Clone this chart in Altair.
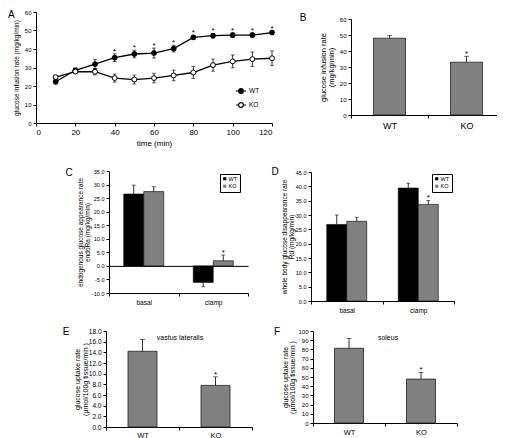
import altair as alt
import pandas as pd

FONT = "Liberation Sans"
W, H = 489, 430
GRAY = "#808080"

# ---------------- data ----------------
groups = ["WT", "KO"]

# Panel A: glucose infusion rate over time
times = [10, 20, 30, 40, 50, 60, 70, 80, 90, 100, 110, 120]
a_wt = [22.3, 28.5, 31.8, 35.3, 37.3, 37.8, 40.2, 46.3, 47.2, 47.5, 47.5, 48.9]
a_wt_err = [1.2, 1.2, 2.5, 2.1, 2.1, 2.7, 1.8, 1.1, 1.2, 1.2, 1.2, 1.1]
a_ko = [24.8, 27.8, 27.7, 24.3, 23.5, 24.3, 25.7, 27.3, 31.3, 33.3, 34.5, 35.0]
a_ko_err = [0.9, 0.8, 1.7, 2.2, 2.4, 2.6, 2.9, 3.2, 3.3, 3.5, 3.9, 4.0]
a_sig = [40, 50, 60, 70, 80, 90, 100, 110, 120]
a_xticks = [0, 20, 40, 60, 80, 100, 120]
a_yticks = [0, 10, 20, 30, 40, 50, 60]

# Panel B
b_vals = [48.0, 33.0]
b_err = [1.6, 3.7]
b_sig = [False, True]
b_yticks = [0, 10, 20, 30, 40, 50, 60]

# Panel C
conds = ["basal", "clamp"]
c_wt = [26.5, -6.1]
c_wt_err = [3.3, 1.6]
c_ko = [27.4, 1.9]
c_ko_err = [1.8, 2.1]
c_sig = [False, False, False, True]          # order: WT basal, WT clamp, KO basal, KO clamp
c_yticks = [-10, -5, 0, 5, 10, 15, 20, 25, 30, 35]

# Panel D
d_wt = [26.7, 39.4]
d_wt_err = [3.3, 1.7]
d_ko = [27.8, 33.7]
d_ko_err = [1.4, 1.4]
d_sig = [False, False, False, True]
d_yticks = [0, 5, 10, 15, 20, 25, 30, 35, 40, 45]

# Panel E (vastus lateralis)
e_vals = [14.2, 7.8]
e_err = [2.2, 1.6]
e_sig = [False, True]
e_yticks = [0, 2, 4, 6, 8, 10, 12, 14, 16, 18]

# Panel F (soleus)
f_vals = [81.2, 47.7]
f_err = [10.8, 7.2]
f_sig = [False, True]
f_yticks = [0, 10, 20, 30, 40, 50, 60, 70, 80, 90, 100]


# ---------------- helpers ----------------
def axis(**kw):
    base = dict(domainColor="black", domainWidth=1, tickColor="black", tickWidth=1, tickSize=3,
                labelColor="black", titleColor="black", labelFont=FONT, titleFont=FONT,
                titleFontWeight="normal", labelFontWeight="normal", grid=False,
                labelPadding=2, titlePadding=3)
    base.update(kw)
    return alt.Axis(**base)


def lin(domain, rng):
    return alt.Scale(domain=domain, range=rng, nice=False, zero=False)


MINUS = "replace(datum.label, '\u2212', '-')"


def text_label(txt, x, y, size, align="center", baseline="middle"):
    return alt.Chart(pd.DataFrame({"t": [txt]})).mark_text(
        font=FONT, fontSize=size, color="black", align=align, baseline=baseline
    ).encode(text="t:N", x=alt.value(x), y=alt.value(y))


# ---------------- Panel A ----------------
dfA = pd.DataFrame({
    "time": times * 2,
    "group": ["WT"] * len(times) + ["KO"] * len(times),
    "value": a_wt + a_ko,
    "err": a_wt_err + a_ko_err,
})
dfA["lo"] = dfA["value"] - dfA["err"]
dfA["hi"] = dfA["value"] + dfA["err"]
dfA["sig"] = [(g == "WT") and (t in a_sig) for g, t in zip(dfA["group"], dfA["time"])]

sxA = lin([0, 120], [28, 264])
syA = lin([0, 60], [115, 4])
axAx = axis(orient="bottom", offset=115 - H, values=a_xticks, title="time (min)",
            labelFontSize=8, titleFontSize=8, titlePadding=3)
axAy = axis(orient="left", offset=-28, values=a_yticks, title="glucose infusion rate (mg/kg/min)",
            labelFontSize=6, titleFontSize=6.5, titlePadding=5)

LEG_PATH = "M-1.6,0H-0.75M0.75,0H1.6M0.75,0A0.75,0.75,0,1,1,-0.75,0A0.75,0.75,0,1,1,0.75,0Z"

baseA = alt.Chart(dfA)
XA = alt.X("time:Q", scale=sxA, axis=None)
A_err = baseA.mark_rule(color="black", strokeWidth=0.8).encode(
    x=XA, y=alt.Y("lo:Q", scale=syA, axis=None), y2="hi:Q")
A_lo = baseA.mark_tick(orient="horizontal", size=4, thickness=0.8, color="black").encode(
    x=XA, y=alt.Y("lo:Q", scale=syA, axis=None))
A_hi = baseA.mark_tick(orient="horizontal", size=4, thickness=0.8, color="black").encode(
    x=XA, y=alt.Y("hi:Q", scale=syA, axis=None))
A_line = baseA.mark_line(color="black", strokeWidth=1.3).encode(
    x=alt.X("time:Q", scale=sxA, axis=axAx),
    y=alt.Y("value:Q", scale=syA, axis=axAy),
    detail="group:N")
A_pts = baseA.mark_point(shape="circle", size=24, filled=True, stroke="black", strokeWidth=1,
                         opacity=1).encode(
    x=XA, y=alt.Y("value:Q", scale=syA, axis=None),
    fill=alt.Fill("group:N", scale=alt.Scale(domain=groups, range=["black", "white"]),
                  legend=alt.Legend(orient="none", legendX=229, legendY=79, title=None,
                                    symbolType=LEG_PATH, symbolSize=40, symbolStrokeColor="black",
                                    symbolStrokeWidth=1.1, labelFontSize=6.5, labelFont=FONT,
                                    labelColor="black", labelOffset=4, rowPadding=4)))
A_star = baseA.transform_filter("datum.sig").mark_text(
    text="*", font=FONT, fontSize=8, baseline="alphabetic", color="black").encode(
    x=XA, y=alt.Y("hi:Q", scale=syA, axis=None))
panelA = alt.layer(A_err, A_lo, A_hi, A_line, A_pts, A_star).resolve_axis(
    x="independent", y="independent")


# ---------------- single bar panels ----------------
def single_panel(vals, errs, sig, xr, yr, ydom, yvals, yfmt, ytitle, bw,
                 ylabfs, ytitlefs, ytitlepad, xlabfs, xlabpad):
    df = pd.DataFrame({"cat": groups, "value": vals, "err": errs, "sig": sig})
    df["end"] = df["value"] + df["err"]
    sx = alt.Scale(domain=groups, range=xr, paddingInner=0, paddingOuter=0)
    sy = lin(ydom, yr)
    xax = axis(orient="bottom", offset=yr[0] - H, title=None, labelAngle=0,
               labelFontSize=xlabfs, tickBand="extent", labelPadding=xlabpad)
    yax = axis(orient="left", offset=-xr[0], values=yvals, format=yfmt, title=ytitle,
               labelFontSize=ylabfs, titleFontSize=ytitlefs, titlePadding=ytitlepad,
               titleLineHeight=ytitlefs + 0.5)
    base = alt.Chart(df)
    Xn = alt.X("cat:N", scale=sx, axis=None)
    bars = base.mark_bar(size=bw, color=GRAY, stroke="#222222", strokeWidth=0.8).encode(
        x=alt.X("cat:N", scale=sx, axis=xax),
        y=alt.Y("value:Q", scale=sy, axis=yax), y2=alt.datum(0))
    rule = base.mark_rule(color="black", strokeWidth=0.8).encode(
        x=Xn, y=alt.Y("value:Q", scale=sy, axis=None), y2="end:Q")
    cap = base.mark_tick(orient="horizontal", size=5, thickness=0.8, color="black").encode(
        x=Xn, y=alt.Y("end:Q", scale=sy, axis=None))
    star = base.transform_filter("datum.sig").mark_text(
        text="*", font=FONT, fontSize=8, baseline="alphabetic", color="black").encode(
        x=Xn, y=alt.Y("end:Q", scale=sy, axis=None))
    return alt.layer(bars, rule, cap, star).resolve_axis(x="independent", y="independent")


panelB = single_panel(b_vals, b_err, b_sig, [343, 497], [107, 11], [0, 60], b_yticks, "d",
                      ["glucose infusion rate", "(mg/kg/min)"], 32, 6, 7.5, 4, 9, 3)
panelE = single_panel(e_vals, e_err, e_sig, [98, 244], [419, 323], [0, 18], e_yticks, ".1f",
                      ["glucose uptake rate", "(\u03bcmol/100g tissue/min )"], 29, 6.5, 7, 0, 7.5, 1)
panelF = single_panel(f_vals, f_err, f_sig, [305, 449], [415, 323], [0, 100], f_yticks, "d",
                      ["glucose uptake rate", "(\u03bcmol/100g tissue/min )"], 29, 6, 7, 2, 7.5, 2)


# ---------------- grouped bar panels ----------------
def grouped_panel(wt, wt_err, ko, ko_err, sig, xr, yr, ydom, yvals, ytitle, legxy, zero_axis):
    df = pd.DataFrame({
        "cond": conds * 2,
        "group": ["WT"] * 2 + ["KO"] * 2,
        "value": wt + ko,
        "err": wt_err + ko_err,
        "sig": sig,
    })
    df["end"] = [v + e if v >= 0 else v - e for v, e in zip(df["value"], df["err"])]
    step = (xr[1] - xr[0]) / 2.0
    bw = 20.0
    po = (step / bw - 2) / 2
    sx = alt.Scale(domain=conds, range=xr, paddingInner=0, paddingOuter=0)
    so = alt.Scale(domain=groups, paddingInner=0, paddingOuter=po)
    sy = lin(ydom, yr)
    xax = axis(orient="bottom", offset=yr[0] - H, title=None, labelAngle=0,
               labelFontSize=6.5, tickBand="extent", labelPadding=3)
    yax = axis(orient="left", offset=-xr[0], values=yvals, format=".1f", labelExpr=MINUS,
               title=ytitle, labelFontSize=5.5, titleFontSize=6.5, titlePadding=1,
               titleLineHeight=7)
    XO = alt.XOffset("group:N", scale=so)
    Xn = alt.X("cond:N", scale=sx, axis=None)
    base = alt.Chart(df)
    bars = base.mark_bar(stroke="black", strokeWidth=0.6).encode(
        x=alt.X("cond:N", scale=sx, axis=xax), xOffset=XO,
        y=alt.Y("value:Q", scale=sy, axis=yax), y2=alt.datum(0),
        color=alt.Color("group:N", scale=alt.Scale(domain=groups, range=["black", GRAY]),
                        legend=alt.Legend(orient="none", legendX=legxy[0], legendY=legxy[1],
                                          title=None, strokeColor="black", fillColor="white",
                                          padding=2, symbolType="square", symbolSize=10,
                                          symbolStrokeWidth=0, labelFontSize=5.5, labelFont=FONT,
                                          labelColor="black", labelOffset=1, rowPadding=0.5)))
    if zero_axis:
        y0 = yr[0] + (0 - ydom[0]) / (ydom[1] - ydom[0]) * (yr[1] - yr[0])
        zax = axis(orient="bottom", offset=y0 - H, title=None, labels=False, ticks=False)
        Xr = alt.X("cond:N", scale=sx, axis=zax)
    else:
        Xr = Xn
    rule = base.mark_rule(color="black", strokeWidth=0.8).encode(
        x=Xr, xOffset=XO, y=alt.Y("value:Q", scale=sy, axis=None), y2="end:Q")
    cap = base.mark_tick(orient="horizontal", size=4, thickness=0.8, color="black").encode(
        x=Xn, xOffset=XO, y=alt.Y("end:Q", scale=sy, axis=None))
    star = base.transform_filter("datum.sig").mark_text(
        text="*", font=FONT, fontSize=8, baseline="alphabetic", color="black").encode(
        x=Xn, xOffset=XO, y=alt.Y("end:Q", scale=sy, axis=None))
    return alt.layer(bars, rule, cap, star).resolve_axis(x="independent", y="independent")


panelC = grouped_panel(c_wt, c_wt_err, c_ko, c_ko_err, c_sig, [101, 240], [285, 163], [-10, 35],
                       c_yticks, ["endogenous glucose appearance rate", "endoRa (mg/kg/min)"],
                       (212, 166), True)
panelD = grouped_panel(d_wt, d_wt_err, d_ko, d_ko_err, d_sig, [303, 446], [293, 164], [0, 45],
                       d_yticks, ["whole body glucose disappearance rate", "Rd (mg/kg/min)"],
                       (424, 166), False)

# ---------------- annotations ----------------
labels = [
    text_label("A", 0, 2, 10, align="left", baseline="top"),
    text_label("B", 295, 10, 10),
    text_label("C", 61, 165, 10),
    text_label("D", 267, 164, 10),
    text_label("E", 58, 324, 10),
    text_label("F", 269, 324, 10),
    text_label("vastus lateralis", 172, 330, 7),
    text_label("soleus", 380, 330, 7),
]

chart = alt.layer(panelA, panelB, panelC, panelD, panelE, panelF, *labels).resolve_scale(
    x="independent", y="independent", xOffset="independent",
    color="independent", fill="independent"
).resolve_axis(x="independent", y="independent").resolve_legend(
    color="independent", fill="independent"
).properties(
    width=W, height=H, padding=0, autosize=alt.AutoSizeParams(type="none")
).configure_view(stroke=None).configure_axis(
    titleFontWeight="normal", labelFontWeight="normal"
)

chart.save("out.html", embed_options={"renderer": "svg", "actions": False})
